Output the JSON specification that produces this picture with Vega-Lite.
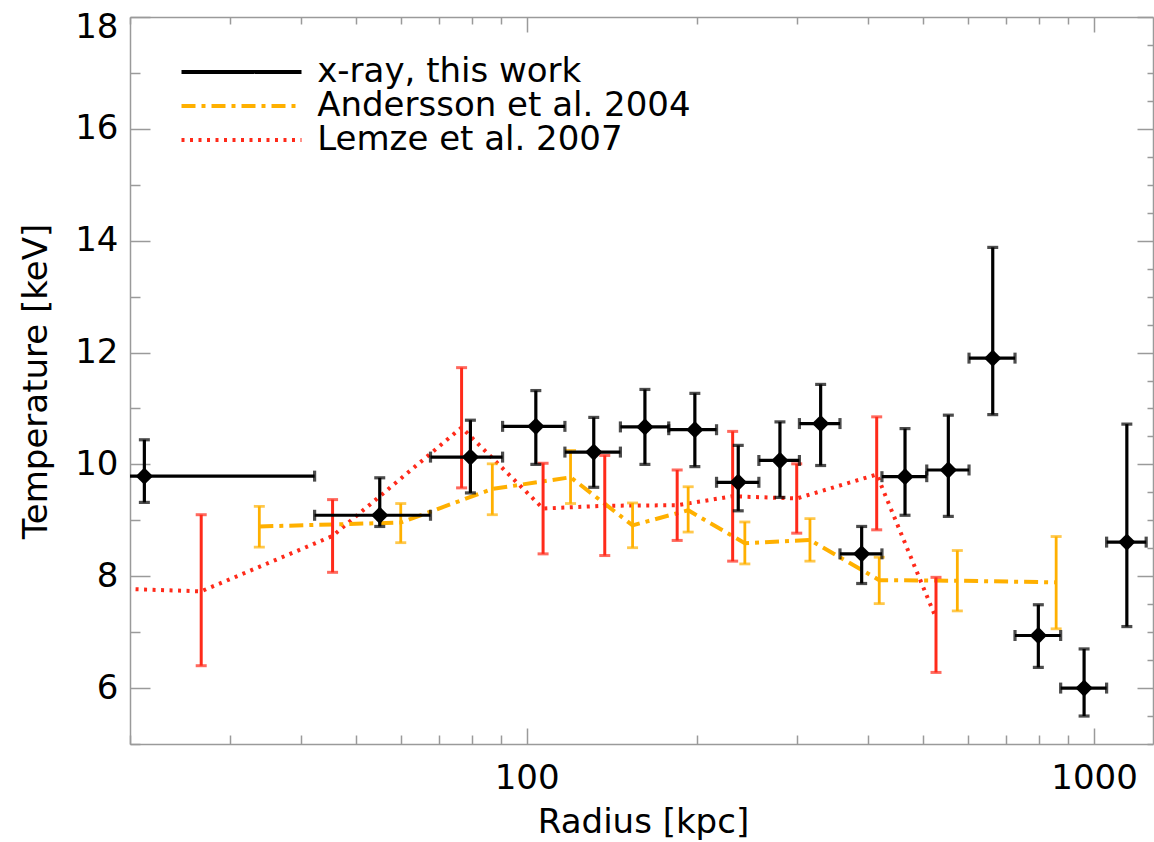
{
  "$schema": "https://vega.github.io/schema/vega-lite/v6.json",
  "width": 1023,
  "height": 727,
  "autosize": "none",
  "padding": {"left": 130, "top": 17, "right": 1, "bottom": 98},
  "background": "white",
  "config": {
    "view": {"stroke": null},
    "font": "DejaVu Sans",
    "axis": {
      "grid": false,
      "domainColor": "#9a9a9a",
      "domainWidth": 1.5,
      "tickColor": "#9a9a9a",
      "tickWidth": 1.5,
      "labelFont": "DejaVu Sans",
      "labelFontSize": 34,
      "labelColor": "black",
      "labelFlush": false,
      "labelOverlap": false,
      "labelBound": false,
      "titleFont": "DejaVu Sans",
      "titleFontSize": 34,
      "titleFontWeight": "normal",
      "titleColor": "black"
    },
    "legend": {
      "labelFont": "DejaVu Sans",
      "labelFontSize": 34,
      "labelColor": "black",
      "labelLimit": 1000
    }
  },
  "datasets": {
    "xray": [
      {"r": 21.2, "rlo": 5, "rhi": 42.3, "t": 9.79, "tlo": 9.32, "thi": 10.44},
      {"r": 55.1, "rlo": 42.3, "rhi": 67.7, "t": 9.09, "tlo": 8.89, "thi": 9.76},
      {"r": 79.6, "rlo": 67.7, "rhi": 90.7, "t": 10.13, "tlo": 9.49, "thi": 10.79},
      {"r": 103.8, "rlo": 90.7, "rhi": 116.8, "t": 10.68, "tlo": 10.0, "thi": 11.32},
      {"r": 131.3, "rlo": 116.8, "rhi": 146.3, "t": 10.22, "tlo": 9.59, "thi": 10.84},
      {"r": 161.6, "rlo": 146.3, "rhi": 178.0, "t": 10.67, "tlo": 10.0, "thi": 11.34},
      {"r": 197.9, "rlo": 178.0, "rhi": 216.1, "t": 10.62, "tlo": 9.96, "thi": 11.27},
      {"r": 236.0, "rlo": 216.1, "rhi": 256.6, "t": 9.68, "tlo": 9.17, "thi": 10.34},
      {"r": 279.5, "rlo": 256.6, "rhi": 302.5, "t": 10.07, "tlo": 9.41, "thi": 10.76},
      {"r": 329.7, "rlo": 302.5, "rhi": 356.6, "t": 10.73, "tlo": 9.98, "thi": 11.43},
      {"r": 389.4, "rlo": 356.6, "rhi": 422.8, "t": 8.40, "tlo": 7.87, "thi": 8.89},
      {"r": 464.3, "rlo": 422.8, "rhi": 507.1, "t": 9.78, "tlo": 9.09, "thi": 10.64},
      {"r": 553.5, "rlo": 507.1, "rhi": 602.0, "t": 9.90, "tlo": 9.07, "thi": 10.88},
      {"r": 662.8, "rlo": 602.0, "rhi": 725.5, "t": 11.90, "tlo": 10.89, "thi": 13.88},
      {"r": 797.5, "rlo": 725.5, "rhi": 873.1, "t": 6.94, "tlo": 6.37, "thi": 7.49},
      {"r": 960.2, "rlo": 873.1, "rhi": 1052.1, "t": 6.00, "tlo": 5.50, "thi": 6.70},
      {"r": 1142.1, "rlo": 1052.1, "rhi": 1235.3, "t": 8.61, "tlo": 7.10, "thi": 10.72}
    ],
    "andersson": [
      {"series": "Andersson et al. 2004", "r": 33.8, "t": 8.89, "tlo": 8.52, "thi": 9.25},
      {"series": "Andersson et al. 2004", "r": 60.0, "t": 8.96, "tlo": 8.60, "thi": 9.30},
      {"series": "Andersson et al. 2004", "r": 87.0, "t": 9.56, "tlo": 9.10, "thi": 10.01},
      {"series": "Andersson et al. 2004", "r": 119.5, "t": 9.77, "tlo": 9.30, "thi": 10.25},
      {"series": "Andersson et al. 2004", "r": 153.7, "t": 8.91, "tlo": 8.51, "thi": 9.31},
      {"series": "Andersson et al. 2004", "r": 192.6, "t": 9.18, "tlo": 8.79, "thi": 9.60},
      {"series": "Andersson et al. 2004", "r": 242.4, "t": 8.59, "tlo": 8.22, "thi": 8.97},
      {"series": "Andersson et al. 2004", "r": 315.7, "t": 8.65, "tlo": 8.27, "thi": 9.03},
      {"series": "Andersson et al. 2004", "r": 418.2, "t": 7.93, "tlo": 7.51, "thi": 8.34},
      {"series": "Andersson et al. 2004", "r": 574.1, "t": 7.92, "tlo": 7.38, "thi": 8.46},
      {"series": "Andersson et al. 2004", "r": 857.3, "t": 7.89, "tlo": 7.06, "thi": 8.71}
    ],
    "lemze": [
      {"series": "Lemze et al. 2007", "r": 15.0, "t": 7.81, "tlo": 6.50, "thi": 9.10},
      {"series": "Lemze et al. 2007", "r": 26.7, "t": 7.73, "tlo": 6.40, "thi": 9.10},
      {"series": "Lemze et al. 2007", "r": 45.5, "t": 8.72, "tlo": 8.07, "thi": 9.37},
      {"series": "Lemze et al. 2007", "r": 76.8, "t": 10.66, "tlo": 9.58, "thi": 11.73},
      {"series": "Lemze et al. 2007", "r": 106.9, "t": 9.21, "tlo": 8.40, "thi": 10.02},
      {"series": "Lemze et al. 2007", "r": 137.3, "t": 9.26, "tlo": 8.37, "thi": 10.16},
      {"series": "Lemze et al. 2007", "r": 184.2, "t": 9.27, "tlo": 8.64, "thi": 9.90},
      {"series": "Lemze et al. 2007", "r": 230.7, "t": 9.43, "tlo": 8.27, "thi": 10.59},
      {"series": "Lemze et al. 2007", "r": 299.2, "t": 9.39, "tlo": 8.77, "thi": 10.01},
      {"series": "Lemze et al. 2007", "r": 413.9, "t": 9.82, "tlo": 8.83, "thi": 10.85},
      {"series": "Lemze et al. 2007", "r": 526.5, "t": 7.25, "tlo": 6.28, "thi": 7.98}
    ]
  },
  "layer": [
    {
      "data": {"name": "lemze"},
      "mark": {"type": "line", "strokeWidth": 4, "strokeCap": "butt", "clip": true},
      "encoding": {
        "x": {
          "field": "r", "type": "quantitative",
          "scale": {"type": "log", "domain": [20, 1270], "nice": false},
          "axis": {
            "orient": "bottom",
            "values": [20, 30, 40, 50, 60, 70, 80, 90, 100, 200, 300, 400, 500, 600, 700, 800, 900, 1000],
            "format": "d",
            "labelExpr": "datum.value === 100 || datum.value === 1000 ? datum.label : ''",
            "tickSize": {"condition": {"test": "datum.value === 100 || datum.value === 1000", "value": -16}, "value": -9},
            "labelPadding": 33,
            "title": "Radius [kpc]",
            "titleBaseline": "alphabetic",
            "titleX": 513,
            "titleY": 88
          }
        },
        "y": {
          "field": "t", "type": "quantitative",
          "scale": {"domain": [5, 18], "nice": false, "zero": false},
          "axis": {
            "orient": "left",
            "values": [5, 5.5, 6, 6.5, 7, 7.5, 8, 8.5, 9, 9.5, 10, 10.5, 11, 11.5, 12, 12.5, 13, 13.5, 14, 14.5, 15, 15.5, 16, 16.5, 17, 17.5, 18],
            "format": "d",
            "labelExpr": "datum.value % 2 === 0 ? datum.label : ''",
            "tickSize": {"condition": {"test": "datum.value % 2 === 0", "value": -20}, "value": -10},
            "labelPadding": 32,
            "labelOffset": {"condition": {"test": "datum.value === 18", "value": 10}, "value": 0},
            "title": "Temperature [keV]",
            "titleBaseline": "alphabetic",
            "titleX": -83.5,
            "titleY": 364
          }
        },
        "color": {
          "field": "series", "type": "nominal",
          "scale": {"domain": ["x-ray, this work", "Andersson et al. 2004", "Lemze et al. 2007"], "range": ["#000000", "#ffb000", "#ff2a1a"]},
          "legend": {"title": null, "orient": "none", "legendX": 94.5, "legendY": 38, "symbolType": "M-6,0H6", "symbolSize": 400, "symbolStrokeWidth": 4, "labelOffset": 58.7, "rowPadding": -6.5, "padding": 0, "labelLimit": 1000}
        },
        "strokeDash": {
          "field": "series", "type": "nominal",
          "scale": {"domain": ["x-ray, this work", "Andersson et al. 2004", "Lemze et al. 2007"], "range": [[1, 0], [14, 6, 4, 6], [3, 5.5]]},
          "legend": {"title": null, "orient": "none", "legendX": 94.5, "legendY": 38, "symbolType": "M-6,0H6", "symbolSize": 400, "symbolStrokeWidth": 4, "labelOffset": 58.7, "rowPadding": -6.5, "padding": 0, "labelLimit": 1000}
        }
      }
    },
    {
      "data": {"name": "andersson"},
      "mark": {"type": "line", "strokeWidth": 4, "strokeCap": "butt", "clip": true},
      "encoding": {
        "x": {
          "field": "r", "type": "quantitative",
          "scale": {"type": "log", "domain": [20, 1270], "nice": false},
          "axis": {
            "orient": "top",
            "values": [20, 30, 40, 50, 60, 70, 80, 90, 100, 200, 300, 400, 500, 600, 700, 800, 900, 1000],
            "labels": false,
            "tickSize": {"condition": {"test": "datum.value === 100 || datum.value === 1000", "value": -15}, "value": -7},
            "title": null
          }
        },
        "y": {
          "field": "t", "type": "quantitative",
          "scale": {"domain": [5, 18], "nice": false, "zero": false},
          "axis": {
            "orient": "right",
            "values": [5, 5.5, 6, 6.5, 7, 7.5, 8, 8.5, 9, 9.5, 10, 10.5, 11, 11.5, 12, 12.5, 13, 13.5, 14, 14.5, 15, 15.5, 16, 16.5, 17, 17.5, 18],
            "labels": false,
            "tickSize": {"condition": {"test": "datum.value % 2 === 0", "value": -16}, "value": -6},
            "title": null
          }
        },
        "color": {
          "field": "series", "type": "nominal",
          "scale": {"domain": ["x-ray, this work", "Andersson et al. 2004", "Lemze et al. 2007"], "range": ["#000000", "#ffb000", "#ff2a1a"]},
          "legend": {"title": null, "orient": "none", "legendX": 94.5, "legendY": 38, "symbolType": "M-6,0H6", "symbolSize": 400, "symbolStrokeWidth": 4, "labelOffset": 58.7, "rowPadding": -6.5, "padding": 0, "labelLimit": 1000}
        },
        "strokeDash": {
          "field": "series", "type": "nominal",
          "scale": {"domain": ["x-ray, this work", "Andersson et al. 2004", "Lemze et al. 2007"], "range": [[1, 0], [14, 6, 4, 6], [3, 5.5]]},
          "legend": {"title": null, "orient": "none", "legendX": 94.5, "legendY": 38, "symbolType": "M-6,0H6", "symbolSize": 400, "symbolStrokeWidth": 4, "labelOffset": 58.7, "rowPadding": -6.5, "padding": 0, "labelLimit": 1000}
        }
      }
    },
    {
      "data": {"name": "lemze"},
      "mark": {"type": "errorbar", "color": "#ff2a1a", "clip": true, "rule": {"strokeWidth": 3, "color": "#ff2a1a"}, "ticks": {"size": 11, "thickness": 3, "color": "#ff2a1a"}},
      "encoding": {
        "x": {"field": "r", "type": "quantitative", "scale": {"type": "log", "domain": [20, 1270], "nice": false}, "axis": null},
        "y": {"field": "tlo", "type": "quantitative", "scale": {"domain": [5, 18], "nice": false, "zero": false}, "axis": null},
        "y2": {"field": "thi"}
      }
    },
    {
      "data": {"name": "andersson"},
      "mark": {"type": "errorbar", "color": "#ffb000", "clip": true, "rule": {"strokeWidth": 2.8, "color": "#ffb000"}, "ticks": {"size": 11, "thickness": 2.8, "color": "#ffb000"}},
      "encoding": {
        "x": {"field": "r", "type": "quantitative", "scale": {"type": "log", "domain": [20, 1270], "nice": false}, "axis": null},
        "y": {"field": "tlo", "type": "quantitative", "scale": {"domain": [5, 18], "nice": false, "zero": false}, "axis": null},
        "y2": {"field": "thi"}
      }
    },
    {
      "data": {"name": "xray"},
      "mark": {"type": "errorbar", "color": "black", "clip": true, "rule": {"strokeWidth": 3.2, "color": "black"}, "ticks": {"size": 11, "thickness": 3.2, "color": "black"}},
      "encoding": {
        "x": {"field": "rlo", "type": "quantitative", "scale": {"type": "log", "domain": [20, 1270], "nice": false}, "axis": null},
        "x2": {"field": "rhi"},
        "y": {"field": "t", "type": "quantitative", "scale": {"domain": [5, 18], "nice": false, "zero": false}, "axis": null}
      }
    },
    {
      "data": {"name": "xray"},
      "mark": {"type": "errorbar", "color": "black", "clip": true, "rule": {"strokeWidth": 3.2, "color": "black"}, "ticks": {"size": 11, "thickness": 3.2, "color": "black"}},
      "encoding": {
        "x": {"field": "r", "type": "quantitative", "scale": {"type": "log", "domain": [20, 1270], "nice": false}, "axis": null},
        "y": {"field": "tlo", "type": "quantitative", "scale": {"domain": [5, 18], "nice": false, "zero": false}, "axis": null},
        "y2": {"field": "thi"}
      }
    },
    {
      "data": {"name": "xray"},
      "mark": {"type": "point", "shape": "diamond", "filled": true, "color": "black", "size": 300, "opacity": 1, "clip": true},
      "encoding": {
        "x": {"field": "r", "type": "quantitative", "scale": {"type": "log", "domain": [20, 1270], "nice": false}, "axis": null},
        "y": {"field": "t", "type": "quantitative", "scale": {"domain": [5, 18], "nice": false, "zero": false}, "axis": null}
      }
    }
  ],
  "resolve": {"axis": {"x": "independent", "y": "independent"}}
}
